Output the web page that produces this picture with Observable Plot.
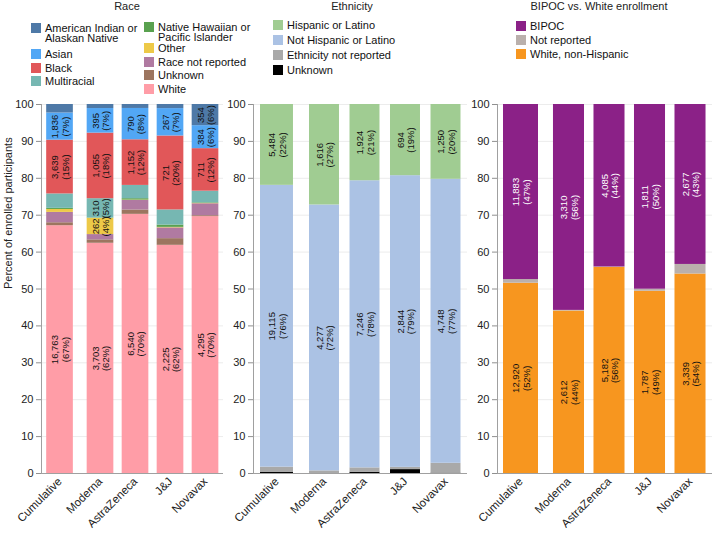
<!DOCTYPE html>
<html><head><meta charset="utf-8">
<script src="https://cdn.jsdelivr.net/npm/d3@7"></script>
<script src="https://cdn.jsdelivr.net/npm/@observablehq/plot@0.6"></script>
<style>
body{margin:0;background:#fff;font-family:"Liberation Sans",Arial,sans-serif;}
#root{position:relative;width:712px;height:533px;overflow:hidden;}
.panel{position:absolute;top:0;}
.title{position:absolute;top:0;font-size:11px;line-height:13px;color:#222;transform:translateX(-50%);white-space:nowrap;}
.item{position:absolute;display:flex;align-items:flex-start;font-size:11px;line-height:10.5px;color:#111;white-space:nowrap;}
.sw{width:10px;height:10px;margin-right:4px;flex:none;}
</style></head><body><div id="root"></div>
<script>
// ---------- data ----------
const products = ["Cumulative", "Moderna", "AstraZeneca", "J&J", "Novavax"];

// Race (counts per product)
const raceWhite        = [16763, 3703, 6540, 2225, 4295];
const raceUnknown      = [200, 55, 110, 65, 15];
const raceNotReported  = [700, 85, 240, 105, 200];
const raceOther        = [200, 262, 10, 5, 5];
const raceNHPI         = [75, 5, 35, 22, 10];
const raceMultiracial  = [975, 310, 335, 148, 195];
const raceBlack        = [3639, 1055, 1152, 721, 711];
const raceAsian        = [1836, 395, 790, 267, 384];
const raceAIAN         = [575, 65, 100, 40, 354];

// Ethnicity
const ethNotReported   = [360, 42, 110, 22, 165];
const ethUnknown       = [70, 0, 32, 38, 6];
const ethNotHispanic   = [19115, 4277, 7246, 2844, 4748];
const ethHispanic      = [5484, 1616, 1924, 694, 1250];

// BIPOC vs White
const bwWhite          = [12920, 2612, 5182, 1787, 3339];
const bwNotReported    = [250, 10, 10, 20, 160];
const bwBIPOC          = [11883, 3310, 4085, 1811, 2677];

const yTicks = [0, 10, 20, 30, 40, 50, 60, 70, 80, 90, 100];

// ---------- series (stack order bottom -> top) ----------
const raceSeries = [
  {key: "White", values: raceWhite, color: "#ff9da7"},
  {key: "Unknown", values: raceUnknown, color: "#9c755f"},
  {key: "Race not reported", values: raceNotReported, color: "#b07aa1"},
  {key: "Other", values: raceOther, color: "#edc948"},
  {key: "Native Hawaiian or Pacific Islander", values: raceNHPI, color: "#59a14f"},
  {key: "Multiracial", values: raceMultiracial, color: "#76b7b2"},
  {key: "Black", values: raceBlack, color: "#e15759"},
  {key: "Asian", values: raceAsian, color: "#52a7f5"},
  {key: "American Indian or Alaskan Native", values: raceAIAN, color: "#4e79a7"}
];
const ethSeries = [
  {key: "Unknown", values: ethUnknown, color: "#000000"},
  {key: "Ethnicity not reported", values: ethNotReported, color: "#a9a9a9"},
  {key: "Not Hispanic or Latino", values: ethNotHispanic, color: "#abc2e4"},
  {key: "Hispanic or Latino", values: ethHispanic, color: "#a0cc92"}
];
const bwSeries = [
  {key: "White, non-Hispanic", values: bwWhite, color: "#f7961f"},
  {key: "Not reported", values: bwNotReported, color: "#bab0ac"},
  {key: "BIPOC", values: bwBIPOC, color: "#8b2187", light: true}
];

const fmt = d3.format(",");
const root = document.getElementById("root");

function makeRows(series) {
  const rows = [];
  products.forEach((p, i) => {
    const total = d3.sum(series, s => s.values[i]);
    let acc = 0;
    for (const s of series) {
      const v = s.values[i];
      const pct = v / total * 100;
      rows.push({product: p, idx: i, key: s.key, count: v, pct, y1: acc, y2: acc + pct, light: !!s.light});
      acc += pct;
    }
  });
  return rows;
}

function panel(cfg) {
  const rows = makeRows(cfg.series);
  const slots = products.map((p, i) => i === 0 ? 0 : i + cfg.gap);
  rows.forEach(r => r.x = slots[r.idx]);
  const hw = d => d.idx === 0 ? cfg.halfCum : cfg.half;
  const labeled = rows.filter(d => d.pct >= 4.3);
  const label = d => `${fmt(d.count)}\n(${Math.round(d.pct)}%)`;
  const marks = [
    Plot.ruleY(yTicks.slice(1), {stroke: "#ececec", strokeWidth: 1}),
    Plot.rectY(rows, {x1: d => d.x - hw(d), x2: d => d.x + hw(d), y1: "y1", y2: "y2", fill: "key"}),
    Plot.text(labeled.filter(d => !d.light), {x: "x", y: d => (d.y1 + d.y2) / 2, text: label, rotate: -90, fontSize: 9.5, lineHeight: 1.1, fill: "#111"}),
    Plot.text(labeled.filter(d => d.light), {x: "x", y: d => (d.y1 + d.y2) / 2, text: label, rotate: -90, fontSize: 9.5, lineHeight: 1.1, fill: "#ffffff"}),
    Plot.ruleX([cfg.xDomain[0]], {stroke: "#a0a0a0"}),
    Plot.ruleY([0], {stroke: "#a0a0a0"}),
    Plot.axisY({ticks: yTicks, tickSize: 5, tickPadding: 3, fontSize: 11, stroke: "#909090", fill: "#222", label: null}),
    Plot.axisX({ticks: slots, tickFormat: d => products[slots.indexOf(d)], tickRotate: -45, tickSize: 0, tickPadding: 6, fontSize: 11.5, fill: "#222", label: null})
  ];
  if (cfg.yLabel) {
    marks.push(Plot.text([cfg.yLabel], {frameAnchor: "left", dx: -33, rotate: -90, fontSize: 11, fill: "#222"}));
  }
  const chart = Plot.plot({
    width: cfg.width,
    height: 533,
    marginTop: 104,
    marginBottom: 60,
    marginLeft: cfg.marginLeft,
    marginRight: cfg.marginRight,
    x: {type: "linear", domain: cfg.xDomain, axis: null},
    y: {domain: [0, 100], axis: null},
    color: {domain: cfg.series.map(s => s.key), range: cfg.series.map(s => s.color)},
    style: {fontFamily: "Liberation Sans, Arial, sans-serif", background: "transparent", overflow: "visible"},
    marks
  });
  const wrap = document.createElement("div");
  wrap.className = "panel";
  wrap.style.left = cfg.left + "px";
  wrap.appendChild(chart);
  root.appendChild(wrap);

  const t = document.createElement("div");
  t.className = "title";
  t.style.left = cfg.titleX + "px";
  t.textContent = cfg.title;
  root.appendChild(t);

  const colorOf = new Map(cfg.series.map(s => [s.key, s.color]));
  for (const it of cfg.legend) {
    const d = document.createElement("div");
    d.className = "item";
    d.style.left = it.left + "px";
    d.style.top = it.top + "px";
    const sw = document.createElement("div");
    sw.className = "sw";
    sw.style.background = colorOf.get(it.key);
    const tx = document.createElement("div");
    tx.innerHTML = it.text;
    d.appendChild(sw); d.appendChild(tx);
    root.appendChild(d);
  }
}

panel({
  series: raceSeries, left: 0, width: 232, marginLeft: 41, marginRight: 9,
  xDomain: [-0.529, 4.671], gap: 0.157, half: 0.381, halfCum: 0.381,
  title: "Race", titleX: 127, yLabel: "Percent of enrolled participants",
  legend: [
    {key: "American Indian or Alaskan Native", text: "American Indian or<br>Alaskan Native", left: 31, top: 22.5},
    {key: "Asian", text: "Asian", left: 31, top: 49},
    {key: "Black", text: "Black", left: 31, top: 62.5},
    {key: "Multiracial", text: "Multiracial", left: 31, top: 76},
    {key: "Native Hawaiian or Pacific Islander", text: "Native Hawaiian or<br>Pacific Islander", left: 144, top: 21.5},
    {key: "Other", text: "Other", left: 144, top: 42.5},
    {key: "Race not reported", text: "Race not reported", left: 144, top: 56.5},
    {key: "Unknown", text: "Unknown", left: 144, top: 70},
    {key: "White", text: "White", left: 144, top: 83.5}
  ]
});

panel({
  series: ethSeries, left: 225, width: 245, marginLeft: 28, marginRight: 3,
  xDomain: [-0.58, 4.704], gap: 0.173, half: 0.37, halfCum: 0.407,
  title: "Ethnicity", titleX: 352,
  legend: [
    {key: "Hispanic or Latino", text: "Hispanic or Latino", left: 273, top: 20},
    {key: "Not Hispanic or Latino", text: "Not Hispanic or Latino", left: 273, top: 34.5},
    {key: "Ethnicity not reported", text: "Ethnicity not reported", left: 273, top: 50},
    {key: "Unknown", text: "Unknown", left: 273, top: 65}
  ]
});

panel({
  series: bwSeries, left: 470, width: 242, marginLeft: 27, marginRight: 0,
  xDomain: [-0.58, 4.728], gap: 0.185, half: 0.383, halfCum: 0.432,
  title: "BIPOC vs. White enrollment", titleX: 599,
  legend: [
    {key: "BIPOC", text: "BIPOC", left: 516, top: 21},
    {key: "Not reported", text: "Not reported", left: 516, top: 35},
    {key: "White, non-Hispanic", text: "White, non-Hispanic", left: 516, top: 48.5}
  ]
});
</script>
</body></html>
